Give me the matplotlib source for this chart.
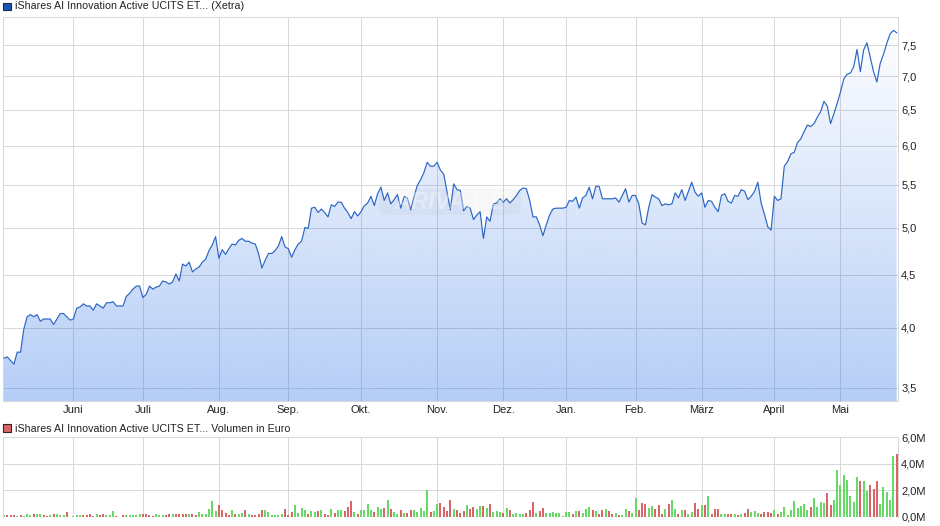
import numpy as np
import matplotlib
matplotlib.use('Agg')
import matplotlib.pyplot as plt
from matplotlib.patches import Polygon, Rectangle, FancyBboxPatch

plt.rcParams['font.family'] = ['Liberation Sans', 'DejaVu Sans']

# Kursverlauf (Xetra), ein Wert pro Handelstag
prices = [
    3.74, 3.75, 3.72, 3.69, 3.79, 3.79, 3.99, 4.10, 4.12, 4.10, 4.12, 4.06, 4.08, 4.08, 4.08, 4.03, 4.08, 4.13, 4.13, 4.10,
    4.07, 4.08, 4.18, 4.19, 4.22, 4.20, 4.20, 4.16, 4.22, 4.20, 4.18, 4.23, 4.23, 4.24, 4.20, 4.20, 4.20, 4.29, 4.32, 4.36,
    4.39, 4.39, 4.28, 4.31, 4.39, 4.36, 4.38, 4.39, 4.44, 4.43, 4.41, 4.43, 4.51, 4.44, 4.61, 4.59, 4.63, 4.53, 4.56, 4.58,
    4.63, 4.66, 4.75, 4.81, 4.90, 4.67, 4.76, 4.71, 4.77, 4.82, 4.81, 4.86, 4.88, 4.85, 4.85, 4.83, 4.82, 4.72, 4.57, 4.65,
    4.72, 4.72, 4.75, 4.80, 4.90, 4.79, 4.77, 4.68, 4.76, 4.82, 4.85, 5.00, 4.99, 5.22, 5.23, 5.17, 5.21, 5.17, 5.12, 5.26,
    5.24, 5.29, 5.29, 5.22, 5.17, 5.10, 5.18, 5.13, 5.18, 5.25, 5.28, 5.36, 5.25, 5.39, 5.47, 5.31, 5.40, 5.27, 5.32, 5.38,
    5.22, 5.36, 5.34, 5.20, 5.35, 5.49, 5.56, 5.65, 5.78, 5.73, 5.73, 5.78, 5.68, 5.63, 5.41, 5.20, 5.51, 5.44, 5.43, 5.19,
    5.24, 5.22, 5.09, 5.14, 5.18, 4.88, 5.12, 5.07, 5.27, 5.28, 5.33, 5.29, 5.33, 5.28, 5.32, 5.37, 5.43, 5.46, 5.45, 5.31,
    5.12, 5.12, 5.03, 4.91, 5.03, 5.14, 5.21, 5.22, 5.22, 5.22, 5.23, 5.31, 5.30, 5.35, 5.22, 5.34, 5.37, 5.47, 5.33, 5.48,
    5.48, 5.33, 5.33, 5.33, 5.33, 5.34, 5.29, 5.37, 5.45, 5.29, 5.37, 5.37, 5.27, 5.05, 5.03, 5.23, 5.38, 5.35, 5.33, 5.25,
    5.27, 5.26, 5.27, 5.40, 5.34, 5.44, 5.31, 5.42, 5.53, 5.41, 5.36, 5.40, 5.23, 5.31, 5.30, 5.23, 5.18, 5.37, 5.39, 5.30,
    5.28, 5.37, 5.36, 5.44, 5.42, 5.32, 5.36, 5.42, 5.53, 5.28, 5.15, 5.01, 4.97, 5.36, 5.31, 5.33, 5.73, 5.79, 5.89, 5.91,
    6.04, 6.09, 6.19, 6.28, 6.26, 6.30, 6.39, 6.47, 6.62, 6.55, 6.30, 6.44, 6.59, 6.76, 6.96, 7.03, 7.05, 7.15, 7.43, 7.07,
    7.42, 7.54, 7.30, 7.07, 6.91, 7.20, 7.35, 7.53, 7.69, 7.75, 7.71,
]

# Volumen in Mio. Euro
volumes = [
    .13, .13, .13, .13, .05, .13, .05, .25, .15, .2, .2, .2, .13, .05, .13, .25, .2, .13, .13, .35, .03, .05, .13, .13,
    .13, .13, .2, .08, .2, .13, .2, .13, .13, .43, .05, .03, .13, .13, .13, .13, .13, .2, .2, .2, .13, .08, .25, .13,
    .13, .13, .25, .2, .2, .2, .2, .25, .2, .25, .13, .4, .2, .2, .58, 1.18, .43, .88, .5, .33, .13, .5, .2, .2,
    .28, .5, .2, .13, .13, .2, .5, .5, .35, .13, .13, .13, .2, .58, .13, .35, .88, .28, .65, .5, .2, .43, .35, .43,
    .5, .2, .13, .58, .28, .5, .5, .43, .73, 1.18, .35, .2, .5, .5, .96, .5, .35, .73, .58, .65, 1.26, .58, .35, .2,
    .5, .28, .28, .5, .5, .35, .65, .43, 2.02, .35, .43, .96, 1.03, .73, .43, 1.26, .58, .5, .28, .43, .88, .58, .73, .58,
    .8, .8, .65, .96, .35, .43, .35, .28, .65, .5, .2, .28, .2, .2, .28, .5, 1.11, .28, .43, .65, .28, .28, .35, .28,
    .28, .05, .35, .35, .2, .43, .43, .28, .58, .73, .5, .43, .2, .5, .58, .43, .2, .28, .13, .13, .58, .43,
    .28, 1.41, .5, 1.03, .96, .65, .8, .58, .88, .2, .58, .96, 1.26, .58, .2, .5, .5, .2, .35, 1.03, .58, .88, .88, 1.56,
    .2, .58, .58, .2, .2, .2, .2, .2, .13, .2, .28, .58, .35, .43, .28, .2, .35, .35, .28, .5, .2, .35, .73, .13,
    .5, 1.18, .65, .8, .96, .5, .73, 1.41, .73, 1.11, 1.03, 1.81, .88, 1.26, 3.53, 2.39, 3.15, 2.77, 1.56, 1.11, 3.0, 2.7, 2.7, 1.96,
    2.39, 2.09, 2.7, .96, 2.24, 1.86, 1.26, 4.58, 4.74,
]

# g = Tag im Plus, r = Tag im Minus
vol_dir = ('grrrgrgggrggrrgrgggrrgggrrrrgrrgggrrrgggggrrrrgggrrgrrrrgrrggggggrrrrgrggrgrrrrggggggrrrggggrggr'
           'grrgrggrrrgrggggrggrgrggrgrrgggggrggrrrrgrrrgrrggrgrgggrgrggggrrrgrrggggggggrgrgggrgrrgrrgrggr'
           'ggrrrggrrrgrggrgrggrrgrgrrrggrrgrgrrgggrrrrgrgggggggggrggggrrggggggggrggrrrgggggr')

month_idx = [21, 42, 65, 86, 108, 131, 151, 170, 191, 211, 233, 253]
month_labels = ['Juni', 'Juli', 'Aug.', 'Sep.', 'Okt.', 'Nov.', 'Dez.', 'Jan.', 'Feb.', 'März', 'April', 'Mai']
price_ticks = [3.5, 4.0, 4.5, 5.0, 5.5, 6.0, 6.5, 7.0, 7.5]
vol_ticks = [0, 2, 4, 6]

W, H = 940, 526
GRID = '#d8d8d8'
TXT = '#222222'
LINE = '#2b66c4'
GREEN = '#66d966'
RED = '#d96666'
x = np.arange(len(prices))
xlim = (-0.45, 270.3)


def axes_px(left, top, right, bottom):
    return [left / W, 1 - bottom / H, (right - left) / W, (bottom - top) / H]


def style(ax, ticks):
    ax.set_xlim(*xlim)
    ax.set_xticks(month_idx)
    ax.set_yticks(ticks)
    ax.minorticks_off()
    ax.grid(True, color=GRID, lw=0.72, zorder=0)
    ax.set_axisbelow(True)
    ax.tick_params(length=0, labelsize=8, colors=TXT)
    ax.yaxis.tick_right()
    for s in ax.spines.values():
        s.set_color(GRID)
        s.set_linewidth(0.72)


fig = plt.figure(figsize=(W / 100, H / 100), dpi=100)

# Kurs
ax = fig.add_axes(axes_px(2.5, 16.7, 897.7, 401))
grad = np.zeros((256, 1, 4))
grad[:, 0, 0] = 40 / 255
grad[:, 0, 1] = 110 / 255
grad[:, 0, 2] = 230 / 255
grad[:, 0, 3] = np.linspace(0.0, 0.344, 256)
im = ax.imshow(grad, extent=(0, 1, 0, 1), transform=ax.transAxes, aspect='auto', origin='upper', zorder=1)
ax.set_yscale('log')
ax.set_ylim(3.40, 7.99)
style(ax, price_ticks)
ax.set_xticklabels(month_labels)
ax.set_yticklabels([('%.1f' % t).replace('.', ',') for t in price_ticks])
ax.tick_params(axis='y', pad=2.5)
ax.tick_params(axis='x', pad=3)
outline = np.column_stack([np.r_[x[0], x, x[-1]], np.r_[3.40, prices, 3.40]])
clip = Polygon(outline, closed=True, fc='none', ec='none', transform=ax.transData)
ax.add_patch(clip)
im.set_clip_path(clip)
ax.plot(x, prices, color=LINE, lw=0.85, zorder=3)

# Wasserzeichen
fig.add_artist(FancyBboxPatch((383 / W, 1 - 213 / H), 134 / W, 22 / H,
                              boxstyle='round,pad=0.004,rounding_size=0.008',
                              fc='#808080', ec='none', alpha=0.06, zorder=5))
fig.text(450 / W, 1 - 202 / H, 'ARIVA.DE', color='white', alpha=0.35, fontsize=17, style='italic',
         fontweight='bold', ha='center', va='center', zorder=6)

# Volumen, als Linien gezeichnet damit jeder Balken genau 2px breit bleibt
ax2 = fig.add_axes(axes_px(2.5, 437.3, 897.7, 517))
bar_colors = [GREEN if d == 'g' else RED for d in vol_dir]
ax2.vlines(np.arange(len(volumes)), 0, volumes, colors=bar_colors, lw=1.44, capstyle='butt', zorder=2)
ax2.set_ylim(0, 6)
style(ax2, vol_ticks)
ax2.set_xticklabels([])
ax2.set_yticklabels([('%.1fM' % t).replace('.', ',') for t in vol_ticks])
ax2.tick_params(axis='y', pad=2.5)
ax2.spines['bottom'].set_visible(False)

# Legenden
fig.add_artist(Rectangle((3.2 / W, 1 - 10 / H), 7.3 / W, 7.3 / H, fc='#1a56b8', ec='#1c2b4a', lw=0.8))
fig.text(15 / W, 1 - 6.3 / H, 'iShares AI Innovation Active UCITS ET... (Xetra)', fontsize=7.7, color=TXT,
         va='center', ha='left')
fig.add_artist(Rectangle((3.2 / W, 1 - 431.7 / H), 7.3 / W, 7.3 / H, fc=RED, ec='#3a2020', lw=0.8))
fig.text(15 / W, 1 - 428.5 / H, 'iShares AI Innovation Active UCITS ET... Volumen in Euro', fontsize=7.7, color=TXT,
         va='center', ha='left')

fig.savefig('out.png', dpi=100)
